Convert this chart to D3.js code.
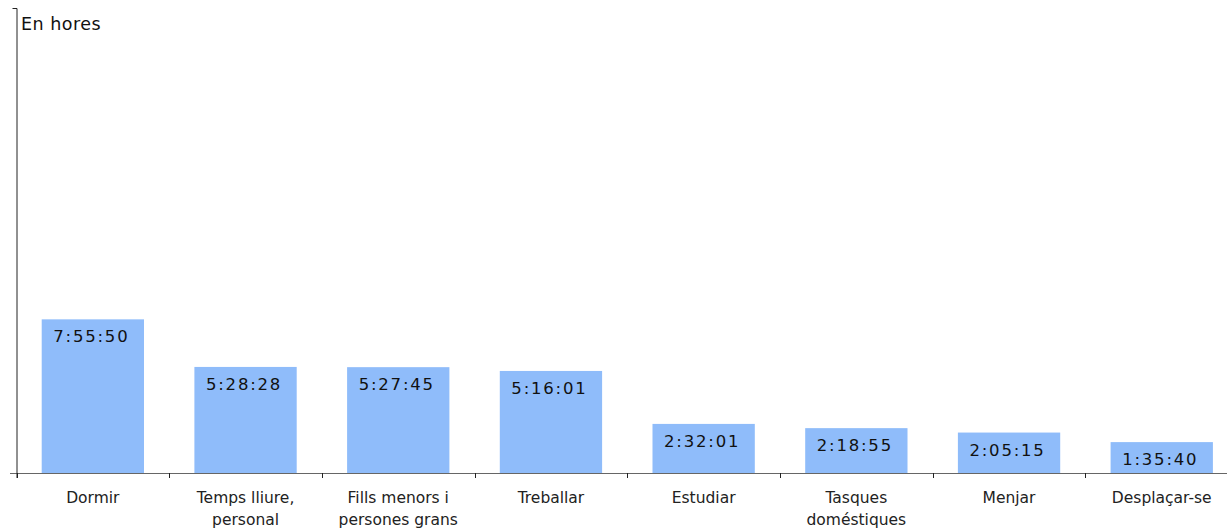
<!DOCTYPE html>
<html><head><meta charset="utf-8">
<script src="https://cdn.jsdelivr.net/npm/d3@7"></script>
<style>body{margin:0;background:#fff}svg{display:block}</style>
</head><body>
<script>
const categories = [["Dormir"],["Temps lliure,","personal"],["Fills menors i","persones grans"],["Treballar"],["Estudiar"],["Tasques","doméstiques"],["Menjar"],["Desplaçar-se"]];
const durations = ["7:55:50","5:28:28","5:27:45","5:16:01","2:32:01","2:18:55","2:05:15","1:35:40"];
const yMax = 24;
const yTitle = "En hores";

const toHours = s => { const [h,m,sec] = s.split(":").map(Number); return h + m/60 + sec/3600; };
const data = categories.map((c,i)=>({key:i, lines:c, label:durations[i], v:toHours(durations[i])}));

const W=1227,H=530, pL=16.5, pT=8, pB=473, pR=pL+8*152.7;
const svg=d3.select("body").append("svg").attr("width",W).attr("height",H);
const x=d3.scaleBand().domain(data.map(d=>d.key)).range([pL,pR]).paddingInner(0.33).paddingOuter(0.165);
const y=d3.scaleLinear().domain([0,yMax]).range([pB,pT]);

svg.selectAll("rect").data(data).join("rect")
 .attr("x",d=>x(d.key)).attr("width",x.bandwidth())
 .attr("y",d=>y(d.v)).attr("height",d=>pB-y(d.v)).attr("fill","#8fbcfa");

svg.selectAll("text.val").data(data).join("text").attr("class","val")
 .attr("x",d=>x(d.key)+x.bandwidth()/2-1.5).attr("y",d=>y(d.v)+23)
 .attr("text-anchor","middle").attr("font-family","DejaVu Sans, Verdana, sans-serif")
 .attr("font-size",16.5).attr("letter-spacing",1.8).attr("fill","#111").text(d=>d.label);

svg.append("line").attr("x1",10).attr("x2",W).attr("y1",pB+0.5).attr("y2",pB+0.5).attr("stroke","#666").attr("stroke-width",1);
const step = x.step();
d3.range(0,9).forEach(i=>{
  const xx=Math.round(pL+i*step)+0.5;
  svg.append("line").attr("x1",xx).attr("x2",xx).attr("y1",pB).attr("y2",pB+5).attr("stroke","#222");
});
const ya=svg.append("g").attr("transform",`translate(${pL},0)`).call(d3.axisLeft(y).tickValues([yMax]).tickSize(4).tickFormat(""));
ya.select(".domain").attr("stroke","#222").attr("d",`M-4,${pT+0.5}H0.5V${pB+5}`);
ya.selectAll(".tick").remove();

svg.append("text").attr("x",21).attr("y",30).attr("font-family","DejaVu Sans, Verdana, sans-serif").attr("font-size",17.5).attr("letter-spacing",0.5).attr("fill","#111").text(yTitle);

const xl=svg.selectAll("text.cat").data(data).join("text").attr("class","cat")
 .attr("x",d=>x(d.key)+x.bandwidth()/2).attr("y",503).attr("text-anchor","middle")
 .attr("font-family","DejaVu Sans, Verdana, sans-serif").attr("font-size",15.5).attr("fill","#222");
xl.selectAll("tspan").data(d=>d.lines.map(t=>({t,x:x(d.key)+x.bandwidth()/2}))).join("tspan")
 .attr("x",t=>t.x).attr("dy",(t,i)=>i?22:0).text(t=>t.t);
</script>
</body></html>
